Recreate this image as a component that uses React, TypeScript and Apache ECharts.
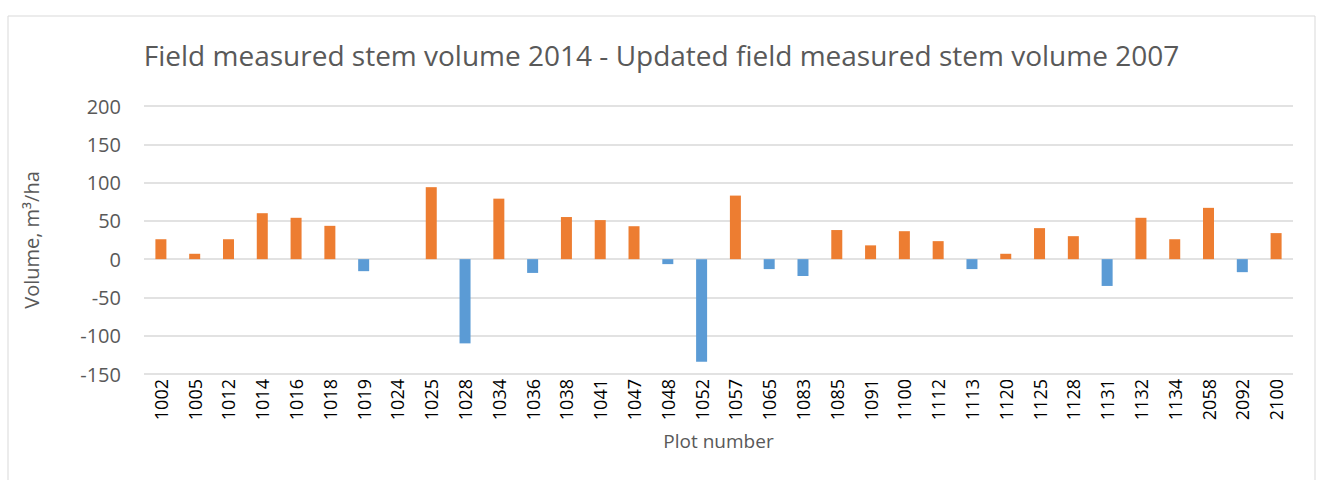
import React, { useEffect, useRef } from "react";
import * as echarts from "echarts";

const plots = ["1002","1005","1012","1014","1016","1018","1019","1024","1025","1028","1034","1036","1038","1041","1047","1048","1052","1057","1065","1083","1085","1091","1100","1112","1113","1120","1125","1128","1131","1132","1134","2058","2092","2100"];
const increases = [26,7,26,60,54,43.5,null,null,94,null,79,null,55,51,43,null,null,83,null,null,38,18,36.5,23.5,null,7,40.5,30,null,54,26,67,null,34];
const decreases = [null,null,null,null,null,null,-15.7,null,null,-110,null,-18,null,null,null,-6.5,-134,null,-13,-22,null,null,null,null,-13,null,null,null,-35,null,null,null,-17,null];
const yTicks = { min: -150, max: 200, interval: 50 };
const title = "Field measured stem volume 2014 - Updated field measured stem volume 2007";

export default function App() {
  const ref = useRef<HTMLDivElement>(null);
  useEffect(() => {
    if (!ref.current) return;
    const chart = echarts.init(ref.current, null, { renderer: "svg" });
    const font = "'Open Sans', 'Liberation Sans', sans-serif";
    chart.setOption({
      animation: false,
      backgroundColor: "#ffffff",
      textStyle: { fontFamily: font },
      title: {
        text: title,
        left: "center",
        top: 36,
        textStyle: { fontFamily: font, fontSize: 28, fontWeight: "normal", color: "#595959" },
      },
      graphic: [
        {
          type: "rect",
          shape: { x: 8, y: 16, width: 1307, height: 480 },
          style: { fill: "none", stroke: "#d9d9d9", lineWidth: 1 },
          silent: true,
        },
      ],
      grid: { left: 144, right: 30, top: 106, bottom: 106, containLabel: false },
      xAxis: {
        type: "category",
        data: plots,
        name: "Plot number",
        nameLocation: "middle",
        nameGap: 57,
        nameTextStyle: { fontFamily: font, fontSize: 19, color: "#595959" },
        axisLine: { show: false },
        axisTick: { show: false },
        axisLabel: { rotate: 90, margin: 5, fontSize: 18, color: "#000000", fontFamily: font, interval: 0 },
      },
      yAxis: {
        type: "value",
        min: yTicks.min,
        max: yTicks.max,
        interval: yTicks.interval,
        name: "Volume, m³/ha",
        nameLocation: "middle",
        nameGap: 103,
        nameTextStyle: { fontFamily: font, fontSize: 20, color: "#595959" },
        axisLine: { show: false },
        axisTick: { show: false },
        axisLabel: { fontSize: 20, color: "#595959", margin: 23, fontFamily: font },
        splitLine: { lineStyle: { color: "#d9d9d9", width: 1.5 } },
      },
      series: [
        {
          name: "Increase",
          type: "bar",
          data: increases,
          barWidth: 11,
          barGap: "-100%",
          itemStyle: { color: "#ED7D31" },
        },
        {
          name: "Decrease",
          type: "bar",
          data: decreases,
          barWidth: 11,
          barGap: "-100%",
          itemStyle: { color: "#5B9BD5" },
        },
      ],
    });
    return () => chart.dispose();
  }, []);
  return (
    <div
      ref={ref}
      style={{ position: "fixed", left: 0, top: 0, width: 1323, height: 480 }}
    />
  );
}
